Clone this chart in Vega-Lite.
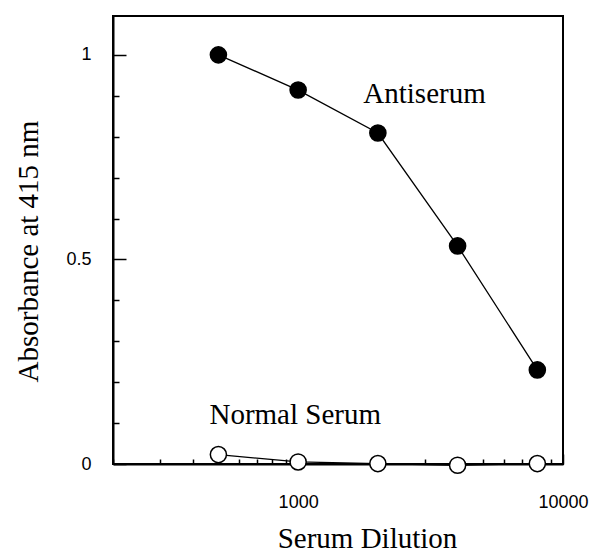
{
  "$schema": "https://vega.github.io/schema/vega-lite/v6.json",
  "autosize": "none",
  "width": 450,
  "height": 448,
  "padding": {"left": 113, "top": 16, "right": 32, "bottom": 88},
  "background": "white",
  "config": {
    "view": {"stroke": "black", "strokeWidth": 2},
    "axis": {
      "grid": false,
      "domainColor": "black",
      "domainWidth": 2,
      "tickColor": "black",
      "tickWidth": 1.5,
      "labelColor": "black",
      "labelFont": "Liberation Sans",
      "labelFontSize": 18,
      "labelOverlap": false,
      "labelFlush": false,
      "titleFont": "Liberation Serif",
      "titleFontSize": 29,
      "titleFontWeight": "normal",
      "titleColor": "black"
    }
  },
  "datasets": {
    "curves": [
      {"series": "Antiserum", "dilution": 500, "absorbance": 1.0},
      {"series": "Antiserum", "dilution": 1000, "absorbance": 0.914},
      {"series": "Antiserum", "dilution": 2000, "absorbance": 0.809},
      {"series": "Antiserum", "dilution": 4000, "absorbance": 0.533},
      {"series": "Antiserum", "dilution": 8000, "absorbance": 0.23},
      {"series": "Normal Serum", "dilution": 500, "absorbance": 0.023},
      {"series": "Normal Serum", "dilution": 1000, "absorbance": 0.005},
      {"series": "Normal Serum", "dilution": 2000, "absorbance": 0.001},
      {"series": "Normal Serum", "dilution": 4000, "absorbance": -0.003},
      {"series": "Normal Serum", "dilution": 8000, "absorbance": 0.001}
    ],
    "labels": [
      {"label": "Antiserum", "dilution": 3000, "absorbance": 0.883},
      {"label": "Normal Serum", "dilution": 975, "absorbance": 0.098}
    ]
  },
  "encoding": {
    "x": {
      "field": "dilution",
      "type": "quantitative",
      "scale": {"type": "log", "domain": [200, 10000]},
      "axis": {
        "values": [200, 300, 400, 500, 600, 700, 800, 900, 1000, 2000, 3000, 4000, 5000, 6000, 7000, 8000, 9000, 10000],
        "format": "d",
        "labelExpr": "datum.value == 1000 || datum.value == 10000 ? datum.label : ''",
        "labelFontSize": 18,
        "tickSize": {"condition": {"test": "datum.value == 1000 || datum.value == 10000", "value": -10}, "value": -5},
        "labelPadding": 39,
        "title": "Serum Dilution",
        "titleX": 254,
        "titleY": 83,
        "titleAlign": "center",
        "titleBaseline": "alphabetic"
      }
    },
    "y": {
      "field": "absorbance",
      "type": "quantitative",
      "scale": {"domain": [0, 1.095], "nice": false, "zero": false},
      "axis": {
        "values": [0, 0.1, 0.2, 0.3, 0.4, 0.5, 0.6, 0.7, 0.8, 0.9, 1],
        "format": "~g",
        "labelExpr": "datum.value == 0 || datum.value == 0.5 || datum.value == 1 ? datum.label : ''",
        "labelFontSize": 18,
        "tickSize": {"condition": {"test": "datum.value == 0 || datum.value == 0.5 || datum.value == 1", "value": -13}, "value": -6},
        "labelPadding": 35,
        "title": "Absorbance at 415 nm",
        "titleX": -76,
        "titleY": 235,
        "titleAngle": -90,
        "titleAlign": "center",
        "titleBaseline": "alphabetic"
      }
    }
  },
  "layer": [
    {
      "data": {"name": "curves"},
      "mark": {"type": "line", "color": "black", "strokeWidth": 1.3},
      "encoding": {"detail": {"field": "series"}}
    },
    {
      "data": {"name": "curves"},
      "mark": {"type": "point", "shape": "circle", "filled": true, "size": 260, "stroke": "black", "strokeWidth": 1.5, "opacity": 1},
      "encoding": {
        "fill": {
          "field": "series",
          "type": "nominal",
          "scale": {"domain": ["Antiserum", "Normal Serum"], "range": ["black", "white"]},
          "legend": null
        }
      }
    },
    {
      "data": {"name": "labels"},
      "mark": {"type": "text", "font": "Liberation Serif", "fontSize": 29, "color": "black", "align": "center", "baseline": "alphabetic"},
      "encoding": {"text": {"field": "label"}}
    }
  ]
}
